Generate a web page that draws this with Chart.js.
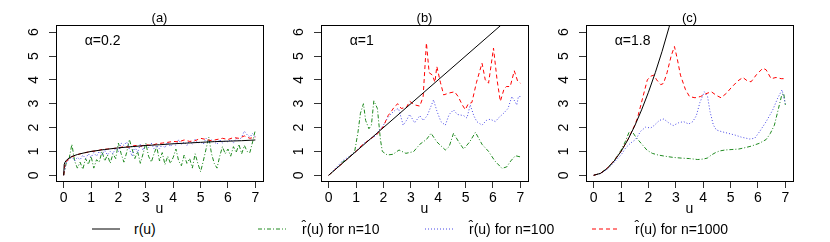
<!DOCTYPE html>
<html>
<head>
<meta charset="utf-8">
<script src="https://cdn.jsdelivr.net/npm/chart.js@4.4.1/dist/chart.umd.min.js"></script>
<style>
  body { margin: 0; background: #fff; font-family: "Liberation Sans", Arial, sans-serif; }
  #wrap { position: relative; width: 830px; height: 242px; overflow: hidden; }
  .panel { position: absolute; top: 0; }
  .leg-line { position: absolute; top: 227px; }
  .leg-text { position: absolute; top: 220px; font-size: 14px; line-height: 18px; color: #000; white-space: nowrap; }
</style>
</head>
<body>
<div id="wrap">
  <canvas class="panel" id="chart-a" width="277" height="218" style="left:0px"></canvas>
  <canvas class="panel" id="chart-b" width="277" height="218" style="left:265px"></canvas>
  <canvas class="panel" id="chart-c" width="277" height="218" style="left:530px"></canvas>
  <div id="legend"></div>
</div>
<script>
// axes
const xTicks = [0, 1, 2, 3, 4, 5, 6, 7];
const yTicks = [0, 1, 2, 3, 4, 5, 6];
const panelTitles = ['(a)', '(b)', '(c)'];
const alphaLabels = ['\u03b1=0.2', '\u03b1=1', '\u03b1=1.8'];
const seriesNames = ['r(u)', 'r\u0302(u) for n=10', 'r\u0302(u) for n=100', 'r\u0302(u) for n=1000'];

// panel (a), alpha = 0.2
const uTrueA = [0, 0.02, 0.05, 0.1, 0.2, 0.3, 0.5, 0.75, 1, 1.5, 2, 2.5, 3, 3.5, 4, 4.5, 5, 5.5, 6, 6.5, 7];
const rTrueA = [0, 0.46, 0.55, 0.63, 0.72, 0.79, 0.87, 0.94, 1.0, 1.08, 1.15, 1.2, 1.25, 1.28, 1.32, 1.35, 1.38, 1.41, 1.43, 1.45, 1.48];
const uGridA = [0, 0.1, 0.2, 0.3, 0.4, 0.5, 0.6, 0.7, 0.8, 0.9,
  1.0, 1.1, 1.2, 1.3, 1.4, 1.5, 1.6, 1.7, 1.8, 1.9,
  2.0, 2.1, 2.2, 2.3, 2.4, 2.5, 2.6, 2.7, 2.8, 2.9,
  3.0, 3.1, 3.2, 3.3, 3.4, 3.5, 3.6, 3.7, 3.8, 3.9,
  4.0, 4.1, 4.2, 4.3, 4.4, 4.5, 4.6, 4.7, 4.8, 4.9,
  5.0, 5.1, 5.2, 5.3, 5.4, 5.5, 5.6, 5.7, 5.8, 5.9,
  6.0, 6.1, 6.2, 6.3, 6.4, 6.5, 6.6, 6.7, 6.8, 6.9, 7.0];
const rHatA10 = [0, 0.55, 0.7, 1.3, 0.6, 0.3, 0.55, 0.25, 0.7, 0.45,
  0.8, 0.3, 0.65, 0.55, 1.0, 0.6, 0.85, 0.5, 0.9, 0.7,
  1.35, 0.9, 0.55, 0.95, 1.5, 1.1, 0.7, 1.0, 0.5, 0.9,
  1.35, 0.8, 0.55, 0.9, 1.2, 0.6, 0.95, 0.45, 0.8, 0.5,
  0.75, 1.1, 0.6, 0.4, 0.85, 0.5, 0.7, 0.3, 0.9, 0.5,
  0.15, 0.6, 1.1, 1.6, 0.9, 0.5, 0.3, 0.8, 1.2, 0.9,
  1.1, 0.8, 1.2, 0.95, 1.3, 0.9, 1.25, 1.0, 0.95, 1.4, 1.9];
const rHatA100 = [0, 0.55, 0.65, 0.8, 0.6, 0.75, 0.65, 0.85, 0.7, 0.9,
  0.75, 0.95, 0.8, 1.0, 0.85, 1.05, 0.85, 1.0, 0.9, 1.15,
  1.0, 1.35, 1.25, 1.4, 1.1, 0.8, 1.2, 0.95, 1.3, 1.05,
  1.3, 1.15, 1.35, 1.1, 1.25, 1.1, 1.3, 1.15, 1.4, 1.2,
  1.35, 1.25, 1.5, 1.3, 1.4, 1.25, 1.45, 1.3, 1.5, 1.35,
  1.4, 1.3, 1.55, 1.35, 1.5, 1.4, 1.3, 1.5, 1.35, 1.45,
  1.4, 1.5, 1.35, 1.55, 1.45, 1.6, 1.85, 1.7, 1.6, 1.75, 1.6];
const uA1000 = [0, 0.05, 0.2, 0.4, 0.6, 0.8, 1.0, 1.2, 1.4, 1.6, 1.8, 2.0, 2.2, 2.4, 2.6, 2.8, 3.0, 3.2, 3.4,
  3.6, 3.8, 4.0, 4.2, 4.4, 4.6, 4.8, 5.0, 5.2, 5.4, 5.6, 5.8, 6.0, 6.2, 6.4, 6.6, 6.8, 7.0];
const rHatA1000 = [0, 0.5, 0.72, 0.82, 0.9, 0.95, 1.0, 1.02, 1.08, 1.1, 1.12, 1.15, 1.2, 1.18, 1.25, 1.22, 1.28, 1.25, 1.32,
  1.35, 1.38, 1.42, 1.4, 1.48, 1.42, 1.45, 1.55, 1.5, 1.45, 1.5, 1.55, 1.5, 1.58, 1.55, 1.65, 1.55, 1.6];

// panel (b), alpha = 1
const uTrueB = [0, 7];
const rTrueB = [0, 7];
const uB10 = [0, 0.3, 0.5, 0.7, 0.95, 1.07, 1.16, 1.27, 1.35, 1.47, 1.56, 1.65, 1.78, 1.89, 1.96, 2.14, 2.35, 2.57, 2.82,
  3.1, 3.33, 3.57, 3.74, 3.95, 4.26, 4.4, 4.56, 4.75, 4.93, 5.15, 5.36, 5.6, 5.84, 6.07, 6.33, 6.5, 6.65, 6.82, 7.0];
const rHatB10 = [0, 0.3, 0.55, 0.7, 1.0, 1.8, 2.6, 3.0, 2.3, 1.95, 2.1, 3.12, 2.8, 1.5, 1.0, 0.85, 0.88, 1.06, 0.92,
  0.99, 1.3, 1.5, 1.76, 1.4, 1.06, 1.2, 1.76, 1.4, 1.1, 1.4, 1.8, 1.3, 1.0, 0.6, 0.29, 0.35, 0.6, 0.82, 0.77];
const uB100 = [0, 0.3, 0.5, 0.7, 1.0, 1.3, 1.5, 1.7, 1.85, 2.0, 2.15, 2.3, 2.45, 2.55, 2.65, 2.72, 2.84, 2.96, 3.14,
  3.33, 3.45, 3.6, 3.83, 3.95, 4.1, 4.26, 4.4, 4.56, 4.7, 4.93, 5.05, 5.17, 5.3, 5.41, 5.6, 5.76, 5.9, 6.09,
  6.2, 6.39, 6.55, 6.69, 6.8, 6.87, 6.93, 7.0];
const rHatB100 = [0, 0.35, 0.6, 0.75, 1.0, 1.35, 1.5, 1.65, 1.9, 2.1, 2.4, 2.6, 2.75, 2.8, 2.4, 2.1, 2.3, 2.55, 2.2,
  2.5, 2.3, 2.5, 3.16, 2.7, 2.25, 2.1, 2.55, 2.74, 2.55, 2.5, 2.4, 2.95, 2.5, 2.25, 2.1, 2.3, 2.35, 2.25,
  2.4, 2.6, 2.8, 3.3, 3.1, 2.95, 3.3, 3.3];
const uB1000 = [0, 0.5, 1.0, 1.2, 1.5, 1.8, 2.0, 2.17, 2.3, 2.42, 2.53, 2.65, 2.84, 2.96, 3.14, 3.33, 3.45, 3.57, 3.67,
  3.79, 3.88, 3.95, 4.08, 4.2, 4.4, 4.6, 4.73, 4.88, 4.99, 5.1, 5.23, 5.4, 5.6, 5.72, 5.84, 6.02, 6.15, 6.27,
  6.4, 6.49, 6.63, 6.78, 6.9, 7.0];
const rHatB1000 = [0, 0.5, 1.0, 1.25, 1.5, 1.75, 2.05, 2.5, 2.7, 2.9, 3.0, 2.8, 2.85, 3.1, 2.95, 2.9, 3.3, 5.55, 4.3,
  4.2, 3.9, 4.56, 3.9, 3.37, 3.45, 3.5, 3.3, 2.95, 2.75, 3.0, 3.05, 3.9, 4.7, 4.0, 3.86, 5.33, 4.0, 3.1,
  3.6, 3.72, 3.72, 4.38, 3.95, 3.86];

// panel (c), alpha = 1.8
const uTrueC = [0, 0.25, 0.5, 0.75, 1, 1.25, 1.5, 1.75, 2, 2.25, 2.5, 2.75, 3];
const rTrueC = [0, 0.08, 0.29, 0.6, 1.0, 1.49, 2.07, 2.74, 3.48, 4.3, 5.2, 6.19, 7.22];
const uC10 = [0, 0.25, 0.5, 0.75, 1.0, 1.15, 1.29, 1.41, 1.54, 1.65, 1.8, 1.95, 2.14, 2.35, 2.6, 2.9, 3.2, 3.5, 3.8,
  4.0, 4.15, 4.3, 4.45, 4.6, 4.8, 5.05, 5.3, 5.5, 5.75, 6.05, 6.3, 6.45, 6.6, 6.75, 6.87, 6.94, 7.0];
const rHatC10 = [0, 0.08, 0.3, 0.62, 1.05, 1.4, 1.8, 1.83, 1.6, 1.45, 1.25, 1.05, 0.92, 0.85, 0.8, 0.75, 0.72, 0.7, 0.66,
  0.68, 0.72, 0.85, 0.95, 1.02, 1.06, 1.08, 1.1, 1.15, 1.22, 1.34, 1.5, 1.75, 2.1, 2.8, 3.37, 3.44, 2.95];
const uC100 = [0, 0.25, 0.5, 0.75, 1.0, 1.17, 1.35, 1.53, 1.72, 1.9, 2.08, 2.2, 2.4, 2.56, 2.74, 2.9, 3.1, 3.28, 3.47,
  3.62, 3.75, 3.88, 4.04, 4.16, 4.25, 4.37, 4.48, 4.67, 4.91, 5.15, 5.39, 5.7, 5.88, 6.06, 6.3, 6.54, 6.72,
  6.88, 6.98, 7.0];
const rHatC100 = [0, 0.07, 0.25, 0.55, 0.85, 1.15, 1.35, 1.5, 1.85, 2.02, 1.98, 2.08, 2.3, 2.36, 2.2, 2.08, 2.2, 2.25, 2.15,
  2.25, 2.5, 3.05, 3.5, 3.3, 2.67, 2.11, 1.9, 1.83, 1.76, 1.69, 1.6, 1.52, 1.55, 1.83, 2.25, 2.74, 3.23,
  3.58, 3.09, 3.0];
const uC1000 = [0, 0.25, 0.5, 0.75, 1.0, 1.25, 1.5, 1.6, 1.78, 1.96, 2.08, 2.2, 2.3, 2.45, 2.55, 2.68, 2.83, 2.95, 3.05,
  3.17, 3.35, 3.5, 3.7, 3.9, 4.1, 4.3, 4.48, 4.65, 4.85, 5.03, 5.27, 5.45, 5.62, 5.75, 5.94, 6.18, 6.3, 6.48,
  6.66, 6.85, 7.0];
const rHatC1000 = [0, 0.08, 0.3, 0.62, 1.0, 1.5, 2.1, 2.4, 3.2, 4.0, 4.15, 4.2, 4.0, 3.8, 3.85, 4.3, 5.0, 5.4, 4.9,
  4.2, 3.6, 3.3, 3.25, 3.3, 3.42, 3.5, 3.35, 3.25, 3.44, 3.68, 3.96, 4.1, 3.95, 3.92, 4.21, 4.49, 4.42, 4.05,
  4.1, 4.05, 4.05];

const lineStyles = [
  { color: '#000000', dash: [] },
  { color: '#1f8a1f', dash: [4, 2, 1, 2] },
  { color: '#4646e6', dash: [1, 2] },
  { color: '#ff0000', dash: [4, 3] }
];

Chart.defaults.font.family = '"Liberation Sans", Arial, sans-serif';
Chart.defaults.color = '#000';

function pts(us, rs) {
  return us.map((u, i) => ({ x: u, y: rs[i] }));
}

// box round the plot and the alpha label
const framePlugin = {
  id: 'frame',
  afterDatasetsDraw(chart, args, opts) {
    const { ctx, chartArea: a, scales } = chart;
    ctx.save();
    ctx.strokeStyle = '#000';
    ctx.lineWidth = 1;
    ctx.strokeRect(Math.round(a.left) + 0.5, Math.round(a.top) + 0.5, Math.round(a.width), Math.round(a.height));
    ctx.font = '14px "Liberation Sans", Arial, sans-serif';
    ctx.fillStyle = '#000';
    ctx.textBaseline = 'middle';
    ctx.fillText(opts.text, scales.x.getPixelForValue(0.77), scales.y.getPixelForValue(5.64));
    ctx.restore();
  }
};

function makePanel(id, title, alphaText, series) {
  const datasets = series.map((s, i) => ({
    label: seriesNames[i],
    data: pts(s[0], s[1]),
    showLine: true,
    borderColor: lineStyles[i].color,
    borderDash: lineStyles[i].dash,
    borderWidth: 1,
    pointRadius: 0,
    tension: 0,
    fill: false,
    order: i === 0 ? 0 : 4 - i
  }));
  return new Chart(document.getElementById(id).getContext('2d'), {
    type: 'scatter',
    data: { datasets: datasets },
    options: {
      responsive: false,
      animation: false,
      layout: { padding: { left: 0, right: 14, top: 0, bottom: 0 } },
      plugins: {
        legend: { display: false },
        tooltip: { enabled: false },
        title: {
          display: true,
          text: title,
          fullSize: false,
          color: '#000',
          font: { size: 13, weight: 'normal', lineHeight: 0.8 },
          padding: { top: 13.5, bottom: 1.1 }
        },
        frame: { text: alphaText }
      },
      scales: {
        x: {
          type: 'linear',
          min: -0.28,
          max: 7.28,
          afterBuildTicks: s => { s.ticks = xTicks.map(v => ({ value: v })); },
          afterFit: s => { s.height = 37; },
          border: { display: false },
          grid: { drawOnChartArea: false, tickLength: 7, color: '#333' },
          ticks: { font: { size: 14 }, color: '#000', padding: 2, maxRotation: 0, autoSkip: false },
          title: { display: true, text: 'u', font: { size: 14 }, color: '#000', padding: 0 }
        },
        y: {
          type: 'linear',
          min: -0.24,
          max: 6.3,
          afterBuildTicks: s => { s.ticks = yTicks.map(v => ({ value: v })); },
          afterFit: s => { s.width = 56; },
          border: { display: false },
          grid: { drawOnChartArea: false, tickLength: 7, color: '#333' },
          ticks: { font: { size: 14 }, color: '#000', padding: 11, minRotation: 90, maxRotation: 90, crossAlign: 'center', autoSkip: false }
        }
      }
    },
    plugins: [framePlugin]
  });
}

makePanel('chart-a', panelTitles[0], alphaLabels[0], [
  [uTrueA, rTrueA], [uGridA, rHatA10], [uGridA, rHatA100], [uA1000, rHatA1000]
]);
makePanel('chart-b', panelTitles[1], alphaLabels[1], [
  [uTrueB, rTrueB], [uB10, rHatB10], [uB100, rHatB100], [uB1000, rHatB1000]
]);
makePanel('chart-c', panelTitles[2], alphaLabels[2], [
  [uTrueC, rTrueC], [uC10, rHatC10], [uC100, rHatC100], [uC1000, rHatC1000]
]);

// legend row under the panels
const legendLineX = [92, 258, 425, 592];
const legendTextX = [134, 302, 469, 635];
const legend = document.getElementById('legend');
seriesNames.forEach((name, i) => {
  const svg = document.createElementNS('http://www.w3.org/2000/svg', 'svg');
  svg.setAttribute('width', '28');
  svg.setAttribute('height', '4');
  svg.setAttribute('class', 'leg-line');
  svg.style.left = legendLineX[i] + 'px';
  const ln = document.createElementNS('http://www.w3.org/2000/svg', 'line');
  ln.setAttribute('x1', '0'); ln.setAttribute('y1', '2');
  ln.setAttribute('x2', '28'); ln.setAttribute('y2', '2');
  ln.setAttribute('stroke', lineStyles[i].color);
  ln.setAttribute('stroke-width', '1');
  if (lineStyles[i].dash.length) ln.setAttribute('stroke-dasharray', lineStyles[i].dash.join(' '));
  svg.appendChild(ln);
  legend.appendChild(svg);
  const t = document.createElement('div');
  t.className = 'leg-text';
  t.style.left = legendTextX[i] + 'px';
  t.textContent = name;
  legend.appendChild(t);
});
</script>
</body>
</html>
